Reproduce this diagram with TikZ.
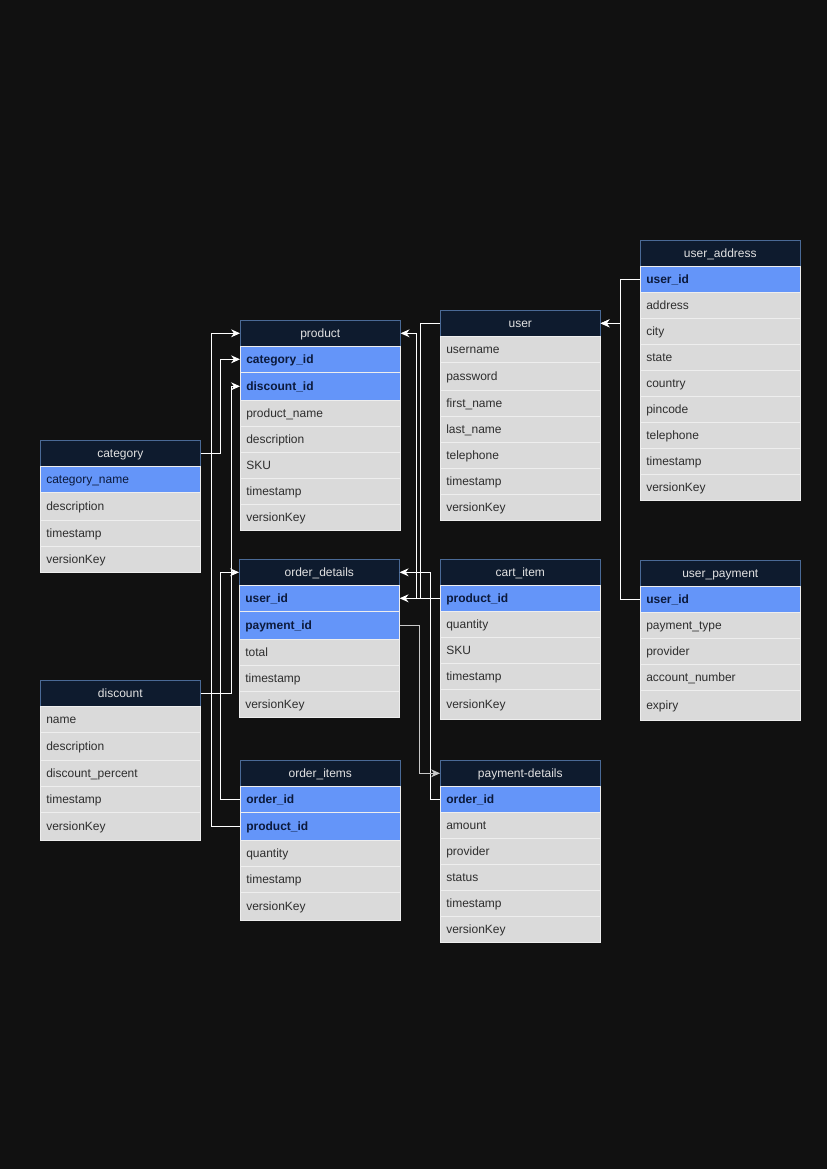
\documentclass[tikz,border=0pt]{standalone}
\usepackage{fontspec}
\setmainfont{Liberation Sans}
\usetikzlibrary{arrows.meta}
\definecolor{bg}{HTML}{111111}
\definecolor{hdrfill}{HTML}{0E1B2E}
\definecolor{hdrline}{HTML}{4A6A96}
\definecolor{rowfill}{HTML}{DADADA}
\definecolor{rowline}{HTML}{EEEEEE}
\definecolor{hlfill}{HTML}{6495F9}
\definecolor{hltext}{HTML}{0C1A3C}
\definecolor{rowtext}{HTML}{2E2E2E}
\definecolor{hdrtext}{HTML}{E2E2E2}
\definecolor{connsoft}{HTML}{C8C8C8}
\tikzset{
  base/.style={minimum width=160pt, text width=148pt, inner xsep=6pt, inner ysep=0pt,
    text height=10pt, text depth=2pt,
    font=\fontsize{12}{14}\selectfont, line width=0.6pt, anchor=north west},
  hdr/.style={base, fill=hdrfill, draw=hdrline, text=hdrtext, align=center, minimum height=26pt},
  fld/.style={base, fill=rowfill, draw=rowline, text=rowtext, align=left},
  key/.style={fld, fill=hlfill, draw=rowline, text=hltext, font=\fontsize{12}{14}\selectfont\bfseries},
  hk/.style={fld, fill=hlfill, draw=rowline, text=hltext},
  conn/.style={draw=white, line width=0.9pt, -{Stealth[length=9pt,width=8pt,inset=3pt]}},
}
\newcommand\ertable[5]{%
  \node[hdr] (#1) at (#2,#3) {#4};
  \xdef\cury{\number\numexpr#3+26\relax}%
  \foreach \t/\s/\h [count=\i] in {#5} {
    \node[\s, minimum height=\h pt] (#1-\i) at (#2,\cury) {\t};
    \xdef\cury{\number\numexpr\cury+\h\relax}
  }%
}
\begin{document}
\begin{tikzpicture}[x=1pt,y=-1pt]
\useasboundingbox[fill=bg] (0,0) rectangle (827,1169);

\ertable{product}{240}{320}{product}{category\_id/key/26, discount\_id/key/28, product\_name/fld/26, description/fld/26, SKU/fld/26, timestamp/fld/26, versionKey/fld/26}
\ertable{user}{440}{310}{user}{username/fld/26, password/fld/28, first\_name/fld/26, last\_name/fld/26, telephone/fld/26, timestamp/fld/26, versionKey/fld/26}
\ertable{uaddr}{640}{240}{user\_address}{user\_id/key/26, address/fld/26, city/fld/26, state/fld/26, country/fld/26, pincode/fld/26, telephone/fld/26, timestamp/fld/26, versionKey/fld/26}
\ertable{category}{40}{440}{category}{category\_name/hk/26, description/fld/28, timestamp/fld/26, versionKey/fld/26}
\ertable{od}{239}{559}{order\_details}{user\_id/key/26, payment\_id/key/28, total/fld/26, timestamp/fld/26, versionKey/fld/26}
\ertable{cart}{440}{559}{cart\_item}{product\_id/key/26, quantity/fld/26, SKU/fld/26, timestamp/fld/26, versionKey/fld/30}
\ertable{upay}{640}{560}{user\_payment}{user\_id/key/26, payment\_type/fld/26, provider/fld/26, account\_number/fld/26, expiry/fld/30}
\ertable{discount}{40}{680}{discount}{name/fld/26, description/fld/28, discount\_percent/fld/26, timestamp/fld/26, versionKey/fld/28}
\ertable{oi}{240}{760}{order\_items}{order\_id/key/26, product\_id/key/28, quantity/fld/26, timestamp/fld/26, versionKey/fld/28}
\ertable{pd}{440}{760}{payment-details}{order\_id/key/26, amount/fld/26, provider/fld/26, status/fld/26, timestamp/fld/26, versionKey/fld/26}

\draw[conn] (category.east) -- ++(20,0) |- (product-1.west);
\draw[conn] (oi-2.west) -- ++(-29,0) |- (product.west);
\draw[conn] (discount.east) -- ++(31,0) |- (product-2.west);
\draw[conn] (oi-1.west) -- ++(-20,0) |- (od.west);
\draw[conn] (cart-1.west) -- ++(-24,0) |- (product.east);
\draw[conn] (user.west) -- ++(-20,0) |- (od-1.east);
\draw[conn] (pd-1.west) -- ++(-10,0) |- (od.east);
\draw[conn, draw=connsoft] (od-2.east) -- ++(20,0) |- (pd.west);
\draw[conn] (uaddr-1.west) -- ++(-20,0) |- (user.east);
\draw[conn] (upay-1.west) -- ++(-20,0) |- (user.east);
\end{tikzpicture}
\end{document}
